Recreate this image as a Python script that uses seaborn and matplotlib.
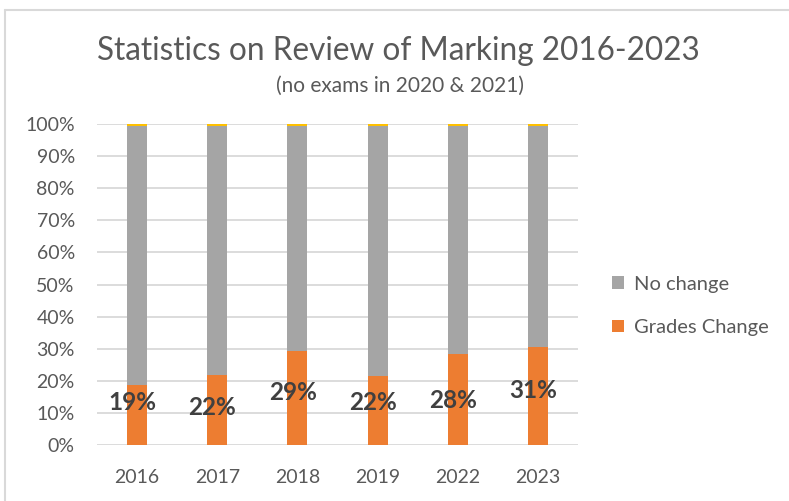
import matplotlib
matplotlib.use("Agg")
import matplotlib.pyplot as plt
import seaborn as sns
import pandas as pd
from matplotlib.patches import Patch
from matplotlib.lines import Line2D

years = ["2016", "2017", "2018", "2019", "2022", "2023"]
grades_change = [18.7, 21.8, 29.3, 21.6, 28.4, 30.6]
other = [0.5, 0.5, 0.5, 0.5, 0.5, 0.5]
no_change = [100 - g - o for g, o in zip(grades_change, other)]
label_text = ["19%", "22%", "29%", "22%", "28%", "31%"]
label_height = [13.1, 11.8, 16.2, 13.1, 14.0, 17.1]
y_ticks = [0, 10, 20, 30, 40, 50, 60, 70, 80, 90, 100]

sns.set_theme(style="white")
plt.rcParams["font.family"] = ["Lato", "DejaVu Sans"]

df = pd.DataFrame({
    "year": years,
    "grades": grades_change,
    "nochange_top": [g + n for g, n in zip(grades_change, no_change)],
    "total": [g + n + o for g, n, o in zip(grades_change, no_change, other)],
})

fig = plt.figure(figsize=(7.89, 5.01), dpi=100)
ax = fig.add_axes([97 / 789, 1 - 445 / 501, 481 / 789, 321 / 501])

sns.barplot(data=df, x="year", y="total", color="#FFC000", width=0.25, ax=ax,
            saturation=1, linewidth=0, zorder=3)
sns.barplot(data=df, x="year", y="nochange_top", color="#A5A5A5", width=0.25, ax=ax,
            saturation=1, linewidth=0, zorder=3)
sns.barplot(data=df, x="year", y="grades", color="#ED7D31", width=0.25, ax=ax,
            saturation=1, linewidth=0, zorder=3)

for i, (t, h) in enumerate(zip(label_text, label_height)):
    ax.text(i - 0.06, h, t, ha="center", va="center", fontsize=17.5, fontweight="bold",
            color="#404040", zorder=5)

ax.set_xlim(-0.5, len(years) - 0.5)
ax.set_ylim(0, 100)
ax.set_yticks(y_ticks)
ax.set_yticklabels([f"{v}%" for v in y_ticks])
ax.set_xlabel("")
ax.set_ylabel("")
ax.tick_params(axis="both", length=0, labelsize=14, colors="#595959")
ax.tick_params(axis="y", pad=16)
ax.tick_params(axis="x", pad=17)
ax.grid(axis="y", color="#D9D9D9", linewidth=1.3, zorder=0)
ax.set_axisbelow(True)
for s in ax.spines.values():
    s.set_visible(False)

fig.text(398 / 789, 1 - 51 / 501, "Statistics on Review of Marking 2016-2023",
         ha="center", va="center", fontsize=22.7, color="#595959")
fig.text(400 / 789, 1 - 86 / 501, "(no exams in 2020 & 2021)",
         ha="center", va="center", fontsize=15, color="#595959")

handles = [Patch(facecolor="#A5A5A5", edgecolor="none", label="No change"),
           Patch(facecolor="#ED7D31", edgecolor="none", label="Grades Change")]
fig.legend(handles=handles, loc="center left", bbox_to_anchor=(594 / 789, 1 - 306 / 501),
           frameon=False, fontsize=14.5, handlelength=0.6, handleheight=0.6,
           handletextpad=0.5, labelspacing=1.3, labelcolor="#595959")

fig.add_artist(Line2D([5 / 789, 1], [1 - 10 / 501, 1 - 10 / 501], color="#D9D9D9",
                      linewidth=1.5, transform=fig.transFigure))
fig.add_artist(Line2D([5 / 789, 5 / 789], [0, 1 - 10 / 501], color="#D9D9D9",
                      linewidth=1.5, transform=fig.transFigure))

fig.savefig("out.png", dpi=100)
